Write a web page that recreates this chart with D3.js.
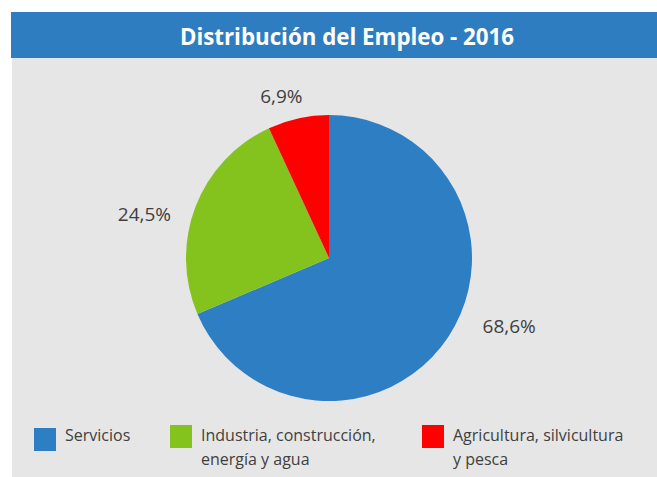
<!DOCTYPE html>
<html>
<head>
<meta charset="utf-8">
<script src="https://cdn.jsdelivr.net/npm/d3@7"></script>
<style>
  html, body { margin: 0; padding: 0; background: #fff; }
  svg { display: block; }
  text { font-family: "Open Sans", "Noto Sans", sans-serif; }
</style>
</head>
<body>
<svg id="chart" width="657" height="477"></svg>
<script>
const title = 'Distribución del Empleo - 2016'
const categories = ['Servicios', 'Industria, construcción, energía y agua', 'Agricultura, silvicultura y pesca']
const legendLines = [['Servicios'], ['Industria, construcción,', 'energía y agua'], ['Agricultura, silvicultura', 'y pesca']]
const values = [68.6, 24.5, 6.9]
const valueLabels = ['68,6%', '24,5%', '6,9%']
const colors = ['#2e7ec3', '#84c31e', '#ff0000']

;(() => {
  const width = 657
  const height = 477
  const svg = d3.select('#chart')

  // panel + title bar
  svg.append('rect')
    .attr('x', 12).attr('y', 58)
    .attr('width', width - 12).attr('height', height - 58)
    .attr('fill', '#e6e6e6')
  svg.append('rect')
    .attr('x', 11).attr('y', 12)
    .attr('width', width - 11).attr('height', 46)
    .attr('fill', '#2f7dc1')
  svg.append('text')
    .attr('x', 347).attr('y', 45)
    .attr('text-anchor', 'middle')
    .attr('fill', '#fff')
    .attr('font-weight', 700)
    .attr('font-size', 22.3)
    .text(title)

  // pie
  const cx = 329
  const cy = 258
  const radius = 143
  const pie = d3.pie().sort(null).value(d => d)
  const arcs = pie(values)
  const arc = d3.arc().innerRadius(0).outerRadius(radius)
  const g = svg.append('g').attr('transform', `translate(${cx},${cy})`)

  g.selectAll('path.slice')
    .data(arcs)
    .join('path')
      .attr('class', 'slice')
      .attr('d', arc)
      .attr('fill', (d, i) => colors[i])

  // labels outside the end of each slice (excel "best fit" pulls them a bit)
  const labelRadius = radius + 22
  const nudge = [[16, -23], [-4, 16], [9, -1]]
  const mid = d => (d.startAngle + d.endAngle) / 2
  g.selectAll('text.label')
    .data(arcs)
    .join('text')
      .attr('class', 'label')
      .attr('x', (d, i) => Math.sin(mid(d)) * labelRadius + nudge[i][0])
      .attr('y', (d, i) => -Math.cos(mid(d)) * labelRadius + nudge[i][1])
      .attr('dy', '0.35em')
      .attr('text-anchor', d => Math.sin(mid(d)) >= 0 ? 'start' : 'end')
      .attr('font-size', 19)
      .attr('fill', '#404040')
      .text((d, i) => valueLabels[i])

  // legend
  const legendOffsets = [34, 170, 422]
  const legend = svg.append('g')
    .selectAll('g')
    .data(categories)
    .join('g')
      .attr('transform', (d, i) => `translate(${legendOffsets[i]},425)`)
  legend.append('rect')
    .attr('width', 22).attr('height', 23)
    .attr('y', (d, i) => i === 0 ? 3 : 0)
    .attr('fill', (d, i) => colors[i])
  legend.append('text')
    .attr('x', 31)
    .attr('y', 16)
    .attr('font-size', 16)
    .attr('fill', '#404040')
    .selectAll('tspan')
    .data((d, i) => legendLines[i])
    .join('tspan')
      .attr('x', 31)
      .attr('dy', (d, j) => j === 0 ? 0 : 24)
      .text(d => d)
})()
</script>
</body>
</html>
